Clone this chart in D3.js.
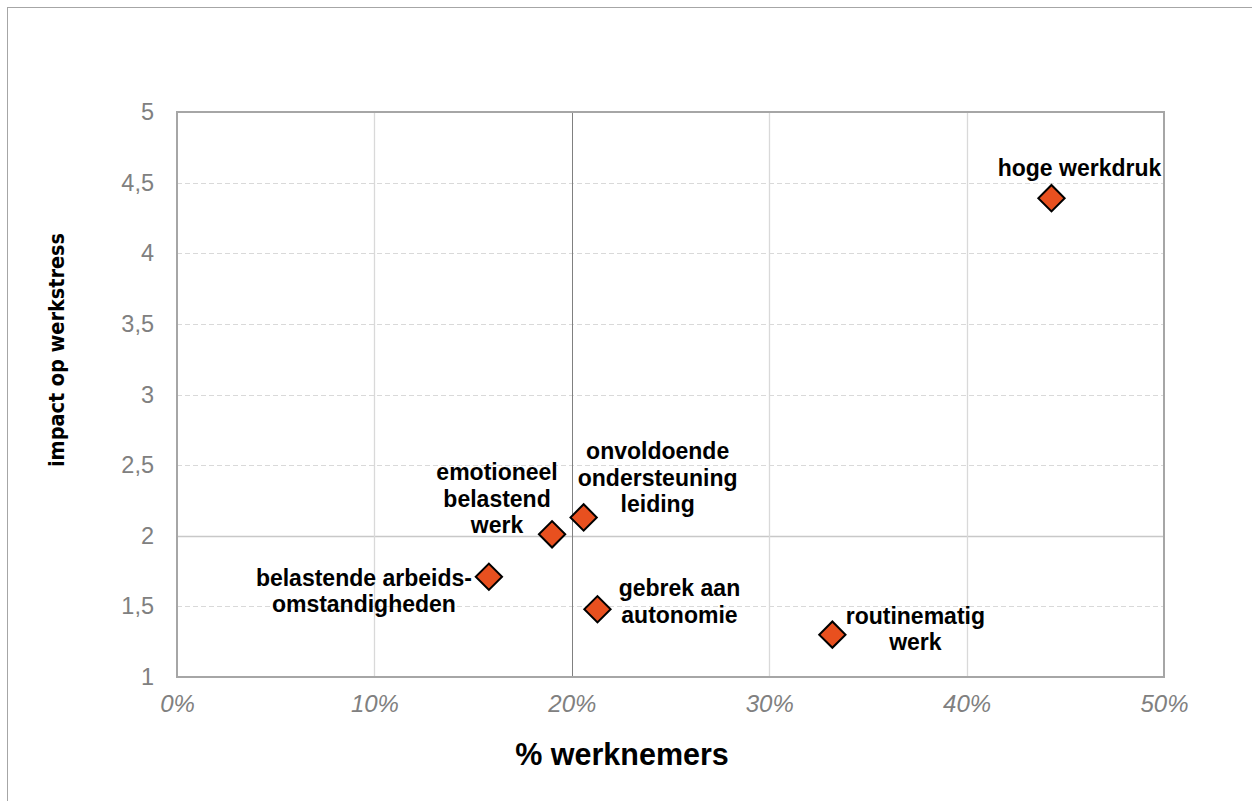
<!DOCTYPE html>
<html>
<head>
<meta charset="utf-8">
<script src="https://cdn.jsdelivr.net/npm/d3@7"></script>
<style>
  html, body { margin: 0; padding: 0; background: #fff; }
  svg { display: block; }
</style>
</head>
<body>
<svg id="chart" width="1252" height="801"></svg>
<script>
// Stressors: share of employees affected (x) vs. impact on work stress (y)
const labels = [
  ["hoge werkdruk"],
  ["emotioneel", "belastend", "werk"],
  ["onvoldoende", "ondersteuning", "leiding"],
  ["belastende arbeids-", "omstandigheden"],
  ["gebrek aan", "autonomie"],
  ["routinematig", "werk"]
];
const pctWorkers = [0.443, 0.190, 0.206, 0.158, 0.213, 0.332];
const impact = [4.39, 2.01, 2.13, 1.71, 1.48, 1.30];

const xTicks = [0, 0.1, 0.2, 0.3, 0.4, 0.5];
const yTicks = [1, 1.5, 2, 2.5, 3, 3.5, 4, 4.5, 5];

// label placement relative to each marker: [dx, dy of first baseline, anchor]
const labelPos = [
  [28, -22, "middle"],
  [-55, -54, "middle"],
  [74, -58, "middle"],
  [-125, 9, "middle"],
  [82, -13, "middle"],
  [83, -11, "middle"]
];

const svg = d3.select("#chart");
const W = 1252, H = 801;
const plot = { left: 177, right: 1164, top: 112, bottom: 677 };

const x = d3.scaleLinear().domain([0, 0.5]).range([plot.left, plot.right]);
const y = d3.scaleLinear().domain([1, 5]).range([plot.bottom, plot.top]);

// outer frame
svg.append("rect")
  .attr("x", 7.5).attr("y", 7.5)
  .attr("width", W + 20).attr("height", H + 20)
  .attr("fill", "none").attr("stroke", "#a6a6a6").attr("stroke-width", 1);

// horizontal gridlines
svg.append("g").selectAll("line")
  .data(yTicks.filter(v => v > 1 && v < 5))
  .join("line")
  .attr("x1", plot.left).attr("x2", plot.right)
  .attr("y1", d => Math.round(y(d)) + 0.5).attr("y2", d => Math.round(y(d)) + 0.5)
  .attr("stroke", d => d === 2 ? "#c8c8c8" : "#d9d9d9")
  .attr("stroke-width", d => d === 2 ? 1.3 : 1.2)
  .attr("stroke-dasharray", d => d === 2 ? null : "5,3");

// vertical gridlines
svg.append("g").selectAll("line")
  .data(xTicks.filter(v => v > 0 && v < 0.5))
  .join("line")
  .attr("y1", plot.top).attr("y2", plot.bottom)
  .attr("x1", d => Math.round(x(d)) + 0.5).attr("x2", d => Math.round(x(d)) + 0.5)
  .attr("stroke", d => d === 0.2 ? "#808080" : "#d9d9d9")
  .attr("stroke-width", d => d === 0.2 ? 1 : 1.3);

// plot border
svg.append("rect")
  .attr("x", plot.left).attr("y", plot.top)
  .attr("width", plot.right - plot.left).attr("height", plot.bottom - plot.top)
  .attr("fill", "none").attr("stroke", "#a6a6a6").attr("stroke-width", 2);

// y axis tick labels
const yAxis = d3.axisLeft(y).tickValues(yTicks).tickSize(0).tickPadding(23)
  .tickFormat(d => String(d).replace(".", ","));
svg.append("g")
  .attr("transform", `translate(${plot.left},0)`)
  .call(yAxis)
  .call(g => g.select(".domain").remove())
  .call(g => g.selectAll("text")
    .attr("fill", "#808080")
    .style("font-family", "'Liberation Sans', Arial, sans-serif")
    .style("font-size", "23.5px"));

// x axis tick labels
const xAxis = d3.axisBottom(x).tickValues(xTicks).tickSize(0).tickPadding(18)
  .tickFormat(d3.format(".0%"));
svg.append("g")
  .attr("transform", `translate(0,${plot.bottom})`)
  .call(xAxis)
  .call(g => g.select(".domain").remove())
  .call(g => g.selectAll("text")
    .attr("fill", "#808080")
    .style("font-family", "'Liberation Sans', Arial, sans-serif")
    .style("font-style", "italic")
    .style("font-size", "24px"));

// axis titles
svg.append("text")
  .attr("x", 622).attr("y", 765)
  .attr("text-anchor", "middle")
  .style("font-family", "'Liberation Sans', Arial, sans-serif")
  .style("font-weight", "bold")
  .style("font-size", "30.5px")
  .attr("fill", "#000")
  .text("% werknemers");

svg.append("text")
  .attr("transform", "translate(64,350) rotate(-90)")
  .attr("text-anchor", "middle")
  .attr("textLength", 234)
  .attr("lengthAdjust", "spacingAndGlyphs")
  .style("font-family", "'DejaVu Sans Condensed', 'DejaVu Sans', sans-serif")
  .style("font-stretch", "condensed")
  .style("font-weight", "bold")
  .style("font-size", "22px")
  .attr("fill", "#000")
  .text("impact op werkstress");

// markers
const data = pctWorkers.map((p, i) => ({ p, v: impact[i], lines: labels[i], pos: labelPos[i] }));
const diamond = d3.symbol().type(d3.symbolSquare).size(2 * 9.3 * 9.3 * 2);

svg.append("g").selectAll("path")
  .data(data)
  .join("path")
  .attr("d", diamond)
  .attr("transform", d => `translate(${x(d.p)},${y(d.v)}) rotate(45)`)
  .attr("fill", "#e8501f")
  .attr("stroke", "#000")
  .attr("stroke-width", 2);

// point labels
const lbl = svg.append("g").selectAll("text")
  .data(data)
  .join("text")
  .attr("text-anchor", d => d.pos[2])
  .style("font-family", "'Liberation Sans', Arial, sans-serif")
  .style("font-weight", "bold")
  .style("font-size", "23px")
  .attr("fill", "#000");

lbl.each(function(d) {
  const t = d3.select(this);
  d.lines.forEach((line, k) => {
    t.append("tspan")
      .attr("x", x(d.p) + d.pos[0])
      .attr("y", y(d.v) + d.pos[1] + k * 26.5)
      .text(line);
  });
});
</script>
</body>
</html>
